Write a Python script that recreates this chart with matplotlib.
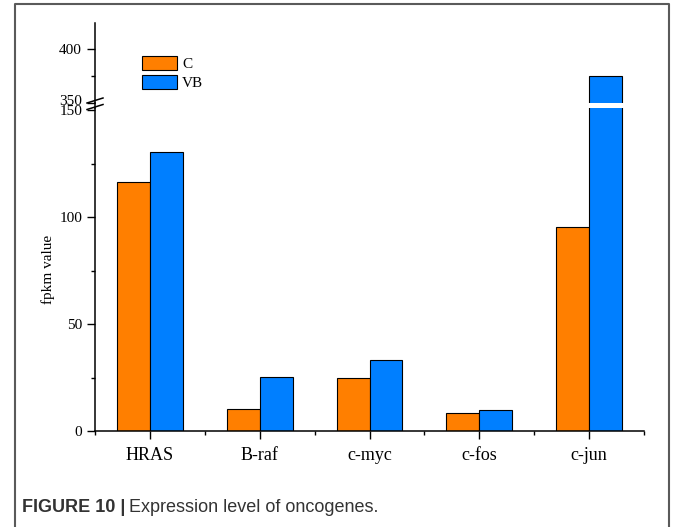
import matplotlib
matplotlib.use('Agg')
import matplotlib.pyplot as plt
import matplotlib.transforms as mtransforms
import numpy as np
from matplotlib.patches import Patch
from matplotlib.lines import Line2D

# dados
genes = ['HRAS', 'B-raf', 'c-myc', 'c-fos', 'c-jun']
valores_c = [116.5, 10.3, 24.9, 8.4, 95.5]
valores_vb = [130.5, 25.3, 33.3, 9.9, 375.0]

cor_c = '#FF7F00'
cor_vb = '#007FFF'

W, H = 673, 527
plt.rcParams['font.family'] = ['Liberation Serif', 'DejaVu Serif']

fig = plt.figure(figsize=(W / 100, H / 100), dpi=100)

def fx(px):
    return px / W

def fy(py):
    return 1 - py / H

x0, x1 = 95, 644
ax_baixo = fig.add_axes([fx(x0), fy(431), fx(x1 - x0), fy(108.3) - fy(431)])
ax_cima = fig.add_axes([fx(x0), fy(102.5), fx(x1 - x0), fy(23.3) - fy(102.5)], sharex=ax_baixo)

x = np.arange(len(genes))
largura = 0.3
for ax in (ax_baixo, ax_cima):
    ax.bar(x - largura / 2, valores_c, largura, color=cor_c, edgecolor='black', linewidth=0.8)
    ax.bar(x + largura / 2, valores_vb, largura, color=cor_vb, edgecolor='black', linewidth=0.8)
    ax.spines['top'].set_visible(False)
    ax.spines['right'].set_visible(False)
    ax.spines['left'].set_linewidth(1.1)
    ax.spines['bottom'].set_linewidth(1.1)
    ax.tick_params(axis='both', which='major', direction='out', length=5.8, width=1.0, labelsize=11)
    ax.tick_params(axis='both', which='minor', direction='out', length=3.2, width=1.0)

ax_baixo.set_xlim(-0.5, 4.5)
ax_baixo.set_ylim(0, 150.8)
ax_baixo.set_yticks([0, 50, 100, 150])
ax_baixo.set_yticks([25, 75, 125], minor=True)
ax_baixo.set_xticks(x)
ax_baixo.set_xticklabels(genes, fontsize=13)
ax_baixo.set_xticks(np.arange(-0.5, 5, 1), minor=True)
ax_baixo.tick_params(axis='x', pad=6)

ax_cima.set_ylim(350, 424.3)
ax_cima.set_yticks([350, 400])
ax_cima.set_yticks([375], minor=True)
ax_cima.spines['bottom'].set_visible(False)
ax_cima.tick_params(axis='x', which='both', bottom=False, labelbottom=False)

# rotulo 350 um pouco acima, como no original
desloc = mtransforms.ScaledTranslation(0, 2.5 / 100, fig.dpi_scale_trans)
ax_cima.get_yticklabels()[0].set_transform(ax_cima.get_yticklabels()[0].get_transform() + desloc)

ax_baixo.set_ylabel('fpkm value', fontsize=11)
ax_baixo.yaxis.set_label_coords(-0.073, 0.5)

# eixo continuo e marcas de quebra
fig.add_artist(Line2D([fx(x0), fx(x0)], [fy(102.5), fy(108.3)], color='black', linewidth=1.1))
for yc in (100.5, 107.0):
    fig.add_artist(Line2D([fx(87), fx(103)], [fy(yc + 2.5), fy(yc - 2.5)], color='black', linewidth=1.1))

# legenda
handles = [Patch(facecolor=cor_c, edgecolor='black', linewidth=0.8, label='C'),
           Patch(facecolor=cor_vb, edgecolor='black', linewidth=0.8, label='VB')]
fig.legend(handles=handles, loc='upper left', bbox_to_anchor=(fx(142), fy(55.7)),
           frameon=False, fontsize=11, borderpad=0, borderaxespad=0,
           handlelength=2.3, handleheight=1.05, labelspacing=0.26, handletextpad=0.33)

# moldura
cinza = '#5a5a5a'
fig.add_artist(Line2D([fx(15), fx(15), fx(669), fx(669)], [0, fy(4), fy(4), 0], color=cinza, linewidth=1.5))

# legenda da figura
y_cap = 508
t1 = fig.text(fx(22), fy(y_cap), 'FIGURE 10 |', family='Liberation Sans', fontweight='bold',
              fontsize=13, color='#333333', va='center', ha='left')
fig.canvas.draw()
bb = t1.get_window_extent()
fig.text(bb.x1 / W + fx(4), fy(y_cap), 'Expression level of oncogenes.', family='Liberation Sans',
         fontsize=13, color='#333333', va='center', ha='left')

plt.savefig('out.png', dpi=100)
